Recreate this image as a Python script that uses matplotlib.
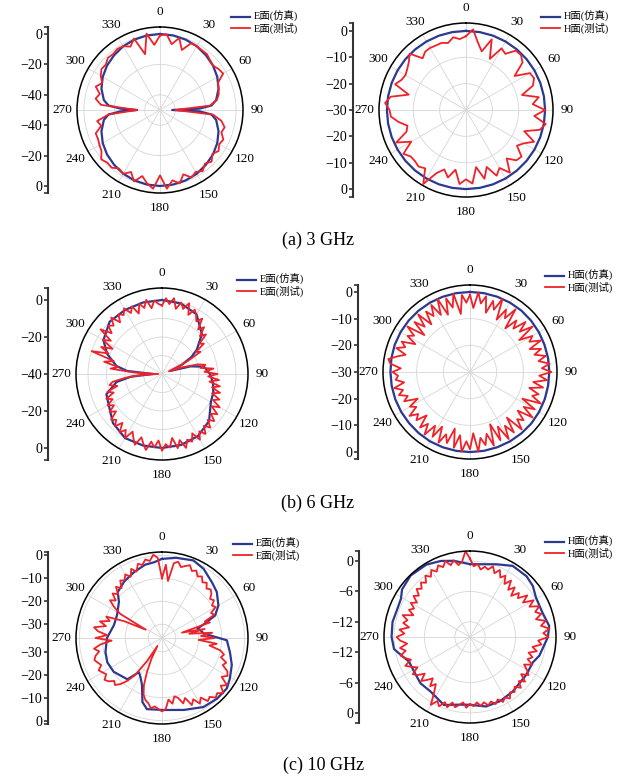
import numpy as np
import matplotlib.pyplot as plt

W, H = 626, 776
BLUE = '#2b3990'
RED = '#ee2229'
SERIF = 'Liberation Serif'
MIXED = ['Liberation Serif', 'Noto Sans CJK SC']

theta_labels = ['0', '30', '60', '90', '120', '150', '180', '210', '240', '270', '300', '330']
captions = ['(a) 3 GHz', '(b) 6 GHz', '(c) 10 GHz']

# ---------------- 3 GHz, E plane ----------------
e3_sim_ang = [0, 10, 20, 30, 40, 50, 60, 70, 80, 85, 88, 90, 92, 95, 100, 110, 120, 130, 140, 150,
              160, 170, 180, 190, 200, 210, 220, 230, 240, 250, 260, 265, 268, 270, 272, 275, 280,
              290, 300, 310, 320, 330, 340, 350, 360]
e3_sim = [0, -0.2, -0.7, -1.6, -3, -4.5, -6.5, -9, -12.5, -16, -24, -42, -24, -16, -12.5, -9, -6.5,
          -4.5, -3, -1.6, -0.7, -0.2, 0, -0.2, -0.7, -1.6, -3, -4.5, -6.5, -9, -12.5, -16, -24, -35,
          -24, -16, -12.5, -9, -6.5, -4.5, -3, -1.6, -0.7, -0.2, 0]
e3_meas_ang = list(range(0, 360, 5))
e3_meas = [-1, 0, -6, -1, -8, -1.5, -1.5, -2, -2, -3.5, -4.5, -3, -2, -8, -9, -10, -12, -17, -40, -15,
           -9, -6, -7, -4, -5, -3, -5, -2, -4, -1, -3, -1, -5, 0, -3, 2, -7, 2, -1, -5,
           0, -5, -1.5, -3, -0.5, -1, 0.5, -3, -4, -5, -5, -10, -8, -16, -35, -11, -7, -9, -5, -8,
           -5, -3, -3.5, -1.5, -2, -1, -1.5, -4, 0, -12, 1, -7]

# ---------------- 3 GHz, H plane ----------------
h3_sim_ang = list(range(0, 370, 10))
h3_sim = [0, 0, 0, 0, 0, 0, 0, 0, 0, 0, 0, 0, 0, 0, 0, 0, 0, 0, 0,
          0, 0, 0, 0, 0, 0, 0, 0, 0, 0, 0, 0, 0, 0, 0, 0, 0, 0]
h3_meas_ang = list(range(0, 360, 5))
h3_meas = [-2, 0.7, -4, -7, -1.5, -8.6, -3, -4, -0.6, -0.5, -2, -7.5, -2, -1.5, -3, -8, -2, -4.6, 0, -4,
           0.7, -1, -6.5, -1.5, -4.7, -6.4, -2.5, -3, -6, -1, -4.6, -2.5, -7, -3, -8, -2, -3.7, -1.8,
           -7, -3.5, -6, -3.6, 2.4, -3, -2, -2.6, -2.6, -1, -6, -0.8, -6, -7, -4, -1.4, -1, 0.8, -1,
           -7.5, -1.4, -3, -3.5, -2.8, -1.7, 0.2, -4.4, -3, -2.8, -3, -2.9, -3.7, -2, -3]

# ---------------- 6 GHz, E plane ----------------
e6_sim_ang = [0, 15, 30, 45, 55, 60, 65, 70, 75, 80, 90, 100, 110, 120, 135, 150, 165, 180, 195, 210,
              225, 240, 250, 260, 265, 270, 275, 280, 290, 300, 315, 330, 345, 360]
e6_sim = [0, -0.5, -2.7, -9.5, -17, -21.6, -28, -35, -24, -17, -14, -12, -10.5, -9.5, -4, -1.2, -0.3,
          0, 0, 0, -2.5, -6.7, -8, -15, -23, -35, -21, -15, -8.5, -3.4, 0, 0, 0, 0]
e6_meas_ang = list(range(0, 360, 3))
e6_meas = [-3, 1, -2, 1.5, -4, 0, -3, 1, -5, -1, -3, -6, -3, -9, -6, -11, -8, -14, -12, -18,
           -16, -24, -30, -36, -28, -20, -16, -19, -12, -17, -10, -15, -9, -14, -8, -12, -7, -11, -6, -9,
           -4, -8, -3, -6, -2, -5, -1, -4, 0, -3, 1, -4, 0, -2, 2, -3, 1, -5, 0, -2,
           1.5, -4, 0, -3, 2, -1, -4, 1, -2, -5, 0, -4, -1, -6, -2, -5, -3, -8, -5, -9,
           -6, -10, -7, -12, -9, -15, -11, -13, -20, -28, -38, -25, -12, -16, -8, -13, 0, -9, -4, -10,
           -3, -7, 1, -5, -1, -3, 1, -4, 0, -2, 1, -3, 0, -5, 0, -3, 1, -4, 0, -2]

# ---------------- 6 GHz, H plane ----------------
h6_sim_ang = list(range(0, 370, 10))
h6_sim = [0, 0, 0, 0, 0, -0.1, -0.2, -0.3, -0.3, -0.3, -0.3, -0.2, -0.1, 0, 0, 0, 0, 0, 0,
          0, 0, 0, -0.1, -0.2, -0.2, -0.2, -0.2, -0.2, -0.1, 0, 0, 0, 0, 0, 0, 0, 0]
h6_meas_ang = list(range(0, 360, 3))
h6_meas = [-1, -6, 0, -4, -1, -7, -2, -5, 0, -8, -3, -6, -1, -9, -4, -7, -2, -6, -1, -8,
           -3, -5, -1, -6, -2, -5, -1, -4, 0, -3, 0.5, -4, -1, -6, -2, -7, -3, -5, -1, -8,
           -2, -6, -1, -7, -3, -5, -1, -8, -2, -6, -1, -7, -2, -9, -1, -6, -2, -5, 0, -7,
           -1, -4, 0, -6, -1, -8, -2, -5, -1, -7, -2, -6, -1, -5, -2, -7, -3, -5, -2, -6,
           -4, -8, -3, -5, -2, -4, -1, -5, -2, -3, -1, -4, 0, 1, -2, -5, -1, -4, -2, -7,
           -3, -5, -1, -8, -2, -6, -1, -7, -2, -5, -1, -6, 0, -7, -1, -5, 0, -8, -1, -4]

# ---------------- 10 GHz, E plane ----------------
e10_sim_ang = [0, 10, 22, 31, 42, 50, 60, 67, 72, 75, 78, 84, 92, 102, 111, 121, 128, 138, 149, 163,
               179, 192, 197, 203, 209, 214, 220, 235, 246, 256, 270, 285, 297, 310, 316, 326, 337,
               347, 354, 360]
e10_sim = [-1.5, -0.5, 0.5, -0.8, -3.4, -4.8, -7.6, -10.8, -17, -20, -19, -17.7, -7.7, -5.7, -3.4,
           -1.5, -0.2, -0.3, -0.9, -3.2, -4.6, -4.3, -6.8, -13.7, -16.6, -18, -12.5, -10.3, -9.9,
           -10.6, -12, -14.3, -14, -11.5, -8.2, -6.4, -4.8, -3.2, -2.8, -1.5]
e10_meas_ang = list(range(0, 360, 3))
e10_meas = [-10, -4, -11, -3, -2, -4, -3, -2, -4, -3, -5, -4, -6, -5, -7, -6, -7, -9, -8, -10,
            -9, -12, -11, -16, -14, -27, -17, -24, -14, -19, -13, -20, -12, -15, -10, -8, -9, -6, -7, -4,
            -3, -5, -1, -3, 0, -2, -1, -3, -2, -5, -3, -6, -4, -8, -6, -9, -10, -7, -9, -5,
            -4, -5, -6, -5, -7, -8, -10, -14, -20, -26, -32, -24, -16, -12, -9, -7, -8, -6, -5, -7,
            -6, -5, -7, -6, -5, -6, -8, -6, -9, -14, -7, -12, -8, -6, -11, -8, -12, -10, -18, -28,
            -15, -11, -8, -10, -7, -9, -6, -8, -5, -6, -4, -6, -3, -5, -2, -3, -1, -2, 0.5, -1]

# ---------------- 10 GHz, H plane ----------------
h10_sim_ang = [0, 10, 20, 31, 43, 51, 59, 71, 82, 90, 105, 112, 124, 142, 155, 167, 180, 188, 201,
               216, 227, 238, 248, 257, 261, 270, 281, 291, 299, 305, 316, 329, 339, 348, 360]
h10_sim = [-0.6, -0.4, 0.3, 1.4, 1.4, 1.0, 0.2, 0.1, 0.8, 0.4, -0.8, -1.6, -1.6, -1.3, -1.0, -0.9,
           -1.6, -1.5, -0.6, -1.7, -1.6, -2, -2, -0.6, 0.2, 0.5, 0.6, 0.4, 0.6, 1.4, 1.9, 1.7, 1.1,
           0.4, -0.6]
h10_meas_ang = list(range(0, 360, 3))
h10_meas = [0.5, -1, -0.5, -1.5, -0.8, -1.2, -0.3, -1.5, -0.5, -1.8, -1, -2.5, -1.2, -3, -1.8, -3.5,
            -2, -2.8, -1, -2.5, -0.5, -1.8, 0, -1.2, -0.2, -1.5, 0.3, -0.8, 0.8, -0.5, 0.5, -1.5,
            -0.8, -2.5, -1.5, -3, -2, -2.8, -1.5, -3, -2, -1.2, -2.5, -1, -2, -0.8, -1.8, -1,
            -1.5, -0.5, -1.2, -0.6, -1.5, -0.8, -1.6, -1, -1.8, -1.2, -2, -1.3, -1.8, -1, -2, -1.4,
            -0.8, -1.6, -0.4, -1.2, 0, -0.8, 0.5, -2, -3.5, -2.5, -4, -3, -2, -3.5, -2.2, -1.5,
            -3, -2, -1, -2.5, -1.5, -0.8, -2, -1, -2.5, -1.2, -0.5, -2, -1, -2.8, -1.5, -2.2,
            -1, -3, -1.8, -2.6, -1.5, -2.5, -1.2, -2, -0.8, -1.5, -0.5, -1.2, 0, -0.8, 0.3, -0.5,
            0.5, -0.2, 0.8, -0.3, 0.5, -0.6, 0, 2]

panels = [
    dict(cx=160, cy=110, R=83, sx=48, rmin=-50, rmax=4.6, ticks=[0, -20, -40], grid=[-40, -20, 0],
         sim=(e3_sim_ang, e3_sim), meas=(e3_meas_ang, e3_meas), names=('E面(仿真)', 'E面(测试)'),
         leg=(226, 6)),
    dict(cx=466, cy=110, R=87, sx=353, rmin=-30, rmax=3.0, ticks=[0, -10, -20, -30], grid=[-20, -10, 0],
         sim=(h3_sim_ang, h3_sim), meas=(h3_meas_ang, h3_meas), names=('H面(仿真)', 'H面(测试)'),
         leg=(536, 6)),
    dict(cx=162, cy=374, R=86, sx=48, rmin=-40, rmax=6.5, ticks=[0, -20, -40], grid=[-30, -20, -10, 0],
         sim=(e6_sim_ang, e6_sim), meas=(e6_meas_ang, e6_meas), names=('E面(仿真)', 'E面(测试)'),
         leg=(232, 269)),
    dict(cx=470, cy=372, R=87, sx=358, rmin=-30, rmax=2.6, ticks=[0, -10, -20, -30], grid=[-20, -10, 0],
         sim=(h6_sim_ang, h6_sim), meas=(h6_meas_ang, h6_meas), names=('H面(仿真)', 'H面(测试)'),
         leg=(540, 265)),
    dict(cx=162, cy=638, R=86, sx=48, rmin=-36, rmax=1.5, ticks=[0, -10, -20, -30], grid=[-30, -20, -10, 0],
         sim=(e10_sim_ang, e10_sim), meas=(e10_meas_ang, e10_meas), names=('E面(仿真)', 'E面(测试)'),
         leg=(228, 533)),
    dict(cx=470, cy=637, R=86, sx=359, rmin=-15, rmax=2.0, ticks=[0, -6, -12], grid=[-12, -6, 0],
         sim=(h10_sim_ang, h10_sim), meas=(h10_meas_ang, h10_meas), names=('H面(仿真)', 'H面(测试)'),
         leg=(540, 531)),
]


def fmt(v):
    return '0' if v == 0 else '\u2212' + str(abs(v))


fig = plt.figure(figsize=(W / 100, H / 100), dpi=100)

for p in panels:
    cx, cy, R = p['cx'], p['cy'], p['R']
    rmin, rmax = p['rmin'], p['rmax']
    ax = fig.add_axes([(cx - R) / W, 1 - (cy + R) / H, 2 * R / W, 2 * R / H], projection='polar')
    ax.set_theta_zero_location('N')
    ax.set_theta_direction(-1)

    sa, sv = p['sim']
    ma, mv = p['meas']
    l1, = ax.plot(np.deg2rad(sa), sv, color=BLUE, lw=1.6)
    l2, = ax.plot(np.deg2rad(list(ma) + [360]), list(mv) + [mv[0]], color=RED, lw=1.3)
    ax.set_rlim(rmin, rmax)
    ax.set_rgrids(p['grid'], labels=[''] * len(p['grid']))
    ax.set_thetagrids(range(0, 360, 30), theta_labels, fontsize=9.5, fontfamily=SERIF)
    ax.tick_params(axis='x', pad=0)
    ax.grid(color='#d6d6d6', lw=0.6)
    ax.spines['polar'].set_linewidth(1.1)

    fig.legend([l1, l2], list(p['names']), loc='upper left',
               bbox_to_anchor=(p['leg'][0] / W, 1 - p['leg'][1] / H),
               frameon=False, borderpad=0, handlelength=1.8, handletextpad=0.4,
               labelspacing=0.0, prop={'family': MIXED, 'size': 7.5})

    # vertical dB scale on the left
    span = rmax - rmin
    sx = fig.add_axes([p['sx'] / W, 1 - (cy + R) / H, 0.001, 2 * R / H])
    sx.set_ylim(-span, span)
    pos, lab = [], []
    for v in p['ticks']:
        d = v - rmin
        if d <= 0:
            pos.append(0)
            lab.append(fmt(v))
        else:
            pos += [d, -d]
            lab += [fmt(v), fmt(v)]
    pos += [span, -span]
    lab += ['', '']
    sx.set_yticks(pos)
    sx.set_yticklabels(lab, fontfamily=SERIF)
    sx.set_xticks([])
    for s in ['top', 'right', 'bottom']:
        sx.spines[s].set_visible(False)
    sx.spines['left'].set_linewidth(1.5)
    sx.spines['left'].set_color('#333333')
    sx.patch.set_visible(False)
    sx.tick_params(axis='y', direction='out', length=3, width=1.2, labelsize=10, pad=1,
                   color='#333333')

for txt, x, y in zip(captions, [318, 318, 324], [240, 503, 765]):
    fig.text(x / W, 1 - y / H, txt, ha='center', va='center', fontfamily=SERIF, fontsize=13)

fig.savefig('out.png', dpi=100)
